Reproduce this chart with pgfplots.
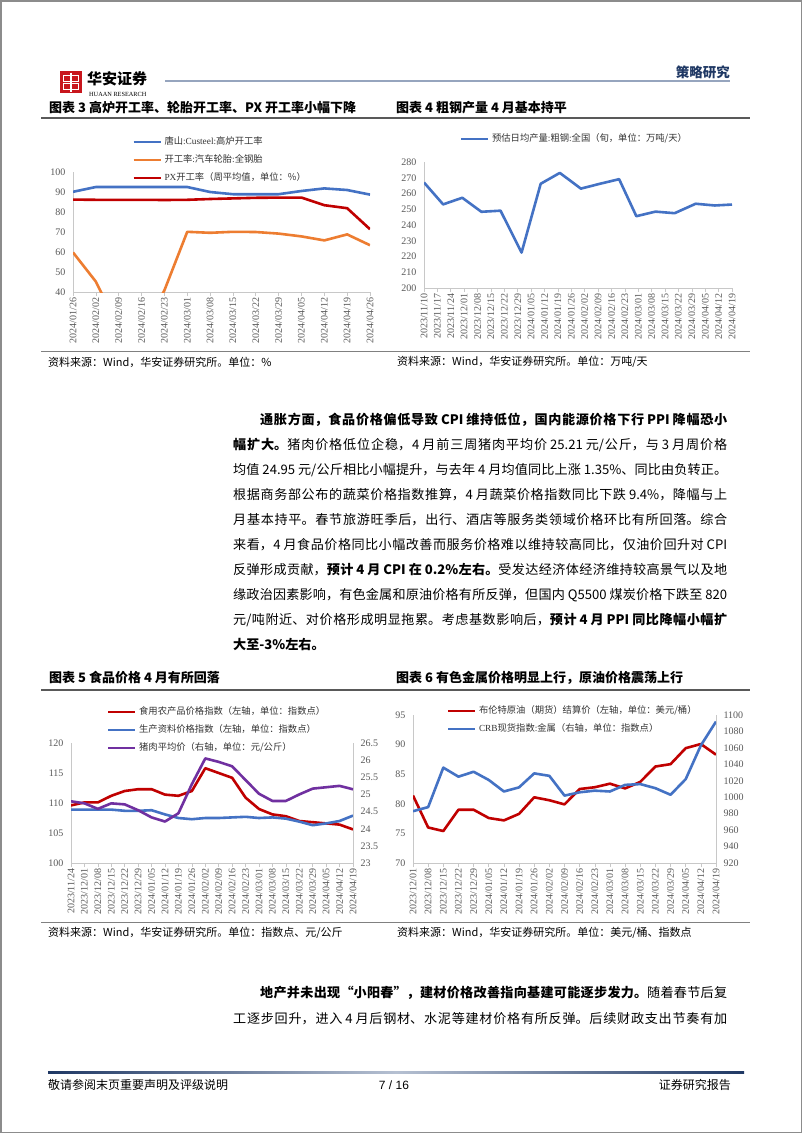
\documentclass[border=0pt]{standalone}
\usepackage{fontspec}
\usepackage{pgfplots}
\pgfplotsset{compat=1.18}
\setmainfont{Liberation Serif}
\newfontfamily\cjk{Noto Sans CJK SC}
\newfontfamily\lsans{Liberation Sans}
\XeTeXlinebreaklocale "zh"
\XeTeXlinebreakskip=0pt plus 1fil

\definecolor{cblue}{RGB}{68,114,196}
\definecolor{corange}{RGB}{237,125,49}
\definecolor{cdred}{RGB}{192,0,0}
\definecolor{cpurple}{RGB}{112,48,160}
\definecolor{axgray}{RGB}{200,200,200}
\definecolor{tickgray}{RGB}{89,89,89}
\definecolor{hdrline}{RGB}{150,165,190}
\definecolor{navy}{RGB}{31,56,100}
\definecolor{logored}{RGB}{200,22,29}

\newcommand\bodyfont{\cjk\fontsize{13.1}{16}\selectfont}
\newcommand\bl[4]{\node[anchor=west,inner sep=0pt] at (#1,-#2) {\parbox{#3pt}{\bodyfont\parindent=0pt\parfillskip=0pt\rightskip=0pt\leftskip=0pt #4}};}

\pgfplotsset{
  rpt/.style={
    scale only axis,
    axis line style={draw=axgray, line width=0.75pt},
    every tick label/.append style={font=\fontsize{10}{11}\selectfont, text=tickgray},
    /pgf/number format/assume math mode=true,
    /pgf/number format/1000 sep={},
    ytick style={draw=none},
    xtick style={draw=axgray, line width=0.6pt},
    major tick length=4pt,
    tick align=outside,
    xticklabel style={rotate=90, anchor=east, inner sep=1.5pt},
    legend style={draw=none, fill=none, inner sep=0pt, outer sep=0pt,
      font=\cjk\fontsize{9.3}{11}\selectfont, text=black!80,
      cells={anchor=west}, row sep=8pt, column sep=2pt,
      nodes={inner sep=0.5pt, text height=7pt, text depth=2pt}},
    legend image code/.code={\draw[##1, line width=2.6pt] (0pt,0pt) -- (27pt,0pt);},
  },
  ser/.style={line width=2.6pt, mark=none, line join=round},
}

\begin{document}
\begin{tikzpicture}[x=1pt,y=1pt]
\fill[white] (0,0) rectangle (802,-1133);
\path[use as bounding box] (0,0) rectangle (802,-1133);
\draw[black!45, line width=1.5pt] (0.75,-0.75) rectangle (801.25,-1132.25);

% ---------- header ----------
\fill[logored] (60,-71) rectangle (82,-93);
\draw[white, line width=1pt] (63.5,-75) rectangle (78.5,-81.5);
\draw[white, line width=1pt] (63.5,-83) rectangle (78.5,-89.5);
\draw[white, line width=1.2pt] (71,-72.5) -- (71,-91.5);
\node[anchor=west, inner sep=0pt] at (87,-79) {\cjk\bfseries\fontsize{15}{15}\selectfont 华安证券};
\node[anchor=west, inner sep=0pt] at (89,-94.5) {\fontsize{6.3}{7}\selectfont HUAAN RESEARCH};
\draw[hdrline, line width=2pt] (165,-81) -- (730,-81);
\node[anchor=east, inner sep=0pt, text=navy] at (730,-72) {\cjk\bfseries\fontsize{13.5}{14}\selectfont 策略研究};

% ---------- titles row 1 ----------
\node[anchor=west, inner sep=0pt] at (49,-108) {\cjk\bfseries\fontsize{13}{14}\selectfont 图表 3 高炉开工率、轮胎开工率、PX 开工率小幅下降};
\node[anchor=west, inner sep=0pt] at (396,-108) {\cjk\bfseries\fontsize{13}{14}\selectfont 图表 4 粗钢产量 4 月基本持平};
\draw[black!65, line width=2.2pt] (41,-118) -- (750,-118);

% ---------- chart 3 ----------
\begin{axis}[rpt, at={(73pt,-292pt)}, anchor=south west, width=297pt, height=120pt,
  xmin=0, xmax=13, ymin=40, ymax=100, ytick={40,50,...,100},
  xtick={0,...,13},
  xticklabels={2024/01/26,2024/02/02,2024/02/09,2024/02/16,2024/02/23,2024/03/01,2024/03/08,2024/03/15,2024/03/22,2024/03/29,2024/04/05,2024/04/12,2024/04/19,2024/04/26},
  axis x line*=bottom, axis y line*=left,
  legend style={at={(0.2,1.292)}, anchor=north west}]
\addplot[ser, cblue] coordinates {(0,90.1)(1,92.5)(2,92.5)(3,92.5)(4,92.5)(5,92.5)(6,90.0)(7,88.9)(8,88.9)(9,88.9)(10,90.5)(11,91.8)(12,91.0)(13,88.7)};
\addlegendentry{唐山{\rmfamily :Custeel:}高炉开工率}
\addplot[ser, corange] coordinates {(0,59.8)(1,45.2)(2,22)(3,20)(4,40.8)(5,70.1)(6,69.6)(7,70.1)(8,70.0)(9,69.2)(10,67.8)(11,65.8)(12,68.8)(13,63.4)};
\addlegendentry{开工率{\rmfamily :}汽车轮胎{\rmfamily :}全钢胎}
\addplot[ser, cdred] coordinates {(0,86.2)(1,86.1)(2,86.1)(3,86.1)(4,86.0)(5,86.1)(6,86.5)(7,86.8)(8,87.1)(9,87.2)(10,87.2)(11,83.4)(12,81.9)(13,71.4)};
\addlegendentry{{\rmfamily PX}开工率（周平均值，单位：\%）}
\end{axis}

% ---------- chart 4 ----------
\begin{axis}[rpt, at={(424pt,-288pt)}, anchor=south west, width=308pt, height=126pt,
  xmin=0, xmax=161, ymin=200, ymax=280, ytick={200,210,...,280},
  xtick={0,7,...,161},
  xticklabels={2023/11/10,2023/11/17,2023/11/24,2023/12/01,2023/12/08,2023/12/15,2023/12/22,2023/12/29,2024/01/05,2024/01/12,2024/01/19,2024/01/26,2024/02/02,2024/02/09,2024/02/16,2024/02/23,2024/03/01,2024/03/08,2024/03/15,2024/03/22,2024/03/29,2024/04/05,2024/04/12,2024/04/19},
  axis x line*=bottom, axis y line*=left,
  legend style={at={(0.117,1.222)}, anchor=north west}]
\addplot[ser, cblue] coordinates {(0,267.0)(10,253.1)(20,257.3)(30,248.4)(40,249.1)(51,222.5)(61,266.2)(71,273.1)(82,263.1)(92,266.2)(102,269.1)(111,245.6)(121,248.5)(131,247.5)(142,253.5)(152,252.4)(161,253.0)};
\addlegendentry{预估日均产量{\rmfamily :}粗钢{\rmfamily :}全国（旬，单位：万吨/天）}
\end{axis}

% ---------- sources row 1 ----------
\draw[black!50, line width=0.8pt] (41,-351) -- (750,-351);
\node[anchor=west, inner sep=0pt] at (48,-362) {\cjk\fontsize{11}{12}\selectfont 资料来源：Wind，华安证券研究所。单位：\%};
\node[anchor=west, inner sep=0pt] at (397,-362) {\cjk\fontsize{11}{12}\selectfont 资料来源：Wind，华安证券研究所。单位：万吨/天};

% ---------- paragraph 1 ----------
\bl{260}{420}{467}{\bfseries 通胀方面，食品价格偏低导致 CPI 维持低位，国内能源价格下行 PPI 降幅恐小}
\bl{233}{445}{494}{{\bfseries 幅扩大。}猪肉价格低位企稳，4 月前三周猪肉平均价 25.21 元/公斤，与 3 月周价格}
\bl{233}{470}{494}{均值 24.95 元/公斤相比小幅提升，与去年 4 月均值同比上涨 1.35\%、同比由负转正。}
\bl{233}{495}{494}{根据商务部公布的蔬菜价格指数推算，4 月蔬菜价格指数同比下跌 9.4\%，降幅与上}
\bl{233}{520}{494}{月基本持平。春节旅游旺季后，出行、酒店等服务类领域价格环比有所回落。综合}
\bl{233}{545}{494}{来看，4 月食品价格同比小幅改善而服务价格难以维持较高同比，仅油价回升对 CPI}
\bl{233}{570}{494}{反弹形成贡献，{\bfseries 预计 4 月 CPI 在 0.2\%左右。}受发达经济体经济维持较高景气以及地}
\bl{233}{595}{494}{缘政治因素影响，有色金属和原油价格有所反弹，但国内 Q5500 煤炭价格下跌至 820}
\bl{233}{620}{494}{元/吨附近、对价格形成明显拖累。考虑基数影响后，{\bfseries 预计 4 月 PPI 同比降幅小幅扩}}
\node[anchor=west, inner sep=0pt] at (233,-645) {\bodyfont\bfseries 大至-3\%左右。};

% ---------- titles row 2 ----------
\node[anchor=west, inner sep=0pt] at (49,-678) {\cjk\bfseries\fontsize{13}{14}\selectfont 图表 5 食品价格 4 月有所回落};
\node[anchor=west, inner sep=0pt] at (396,-678) {\cjk\bfseries\fontsize{13}{14}\selectfont 图表 6 有色金属价格明显上行，原油价格震荡上行};
\draw[black!65, line width=2.2pt] (41,-690) -- (750,-690);

% ---------- chart 5 ----------
\begin{axis}[rpt, at={(71pt,-863pt)}, anchor=south west, width=282pt, height=120pt,
  xmin=0, xmax=21, ymin=100, ymax=120, ytick={100,105,...,120},
  xtick={0,...,21},
  xticklabels={2023/11/24,2023/12/01,2023/12/08,2023/12/15,2023/12/22,2023/12/29,2024/01/05,2024/01/12,2024/01/19,2024/01/26,2024/02/02,2024/02/09,2024/02/16,2024/02/23,2024/03/01,2024/03/08,2024/03/15,2024/03/22,2024/03/29,2024/04/05,2024/04/12,2024/04/19},
  axis x line*=bottom, axis y line*=left]
\addplot[ser, cdred] coordinates {(0,109.6)(1,110.1)(2,110.1)(3,111.2)(4,112.0)(5,112.3)(6,112.3)(7,111.4)(8,111.2)(9,112.0)(10,115.8)(11,115.0)(12,114.2)(13,110.9)(14,109.0)(15,108.1)(16,107.8)(17,107.0)(18,106.8)(19,106.6)(20,106.4)(21,105.6)};
\addplot[ser, cblue] coordinates {(0,108.9)(1,108.9)(2,108.9)(3,108.9)(4,108.7)(5,108.7)(6,108.8)(7,108.1)(8,107.5)(9,107.3)(10,107.5)(11,107.5)(12,107.6)(13,107.7)(14,107.5)(15,107.6)(16,107.4)(17,106.9)(18,106.3)(19,106.6)(20,107.0)(21,107.9)};
\end{axis}
\begin{axis}[rpt, at={(71pt,-863pt)}, anchor=south west, width=282pt, height=120pt,
  xmin=0, xmax=21, ymin=23, ymax=26.5, ytick={23,23.5,...,26.5},
  axis y line*=right, axis x line=none,
  legend style={at={(0.128,1.30)}, anchor=north west}]
\addlegendimage{ser, cdred}
\addlegendentry{食用农产品价格指数（左轴，单位：指数点）}
\addlegendimage{ser, cblue}
\addlegendentry{生产资料价格指数（左轴，单位：指数点）}
\addplot[ser, cpurple] coordinates {(0,24.80)(1,24.74)(2,24.58)(3,24.74)(4,24.71)(5,24.54)(6,24.33)(7,24.21)(8,24.45)(9,25.30)(10,26.05)(11,25.95)(12,25.82)(13,25.42)(14,25.02)(15,24.81)(16,24.81)(17,25.00)(18,25.17)(19,25.21)(20,25.25)(21,25.15)};
\addlegendentry{猪肉平均价（右轴，单位：元/公斤）}
\end{axis}

% ---------- chart 6 ----------
\begin{axis}[rpt, at={(413pt,-863pt)}, anchor=south west, width=303pt, height=148pt,
  xmin=0, xmax=20, ymin=70, ymax=95, ytick={70,75,...,95},
  xtick={0,...,20},
  xticklabels={2023/12/01,2023/12/08,2023/12/15,2023/12/22,2023/12/29,2024/01/05,2024/01/12,2024/01/19,2024/01/26,2024/02/02,2024/02/09,2024/02/16,2024/02/23,2024/03/01,2024/03/08,2024/03/15,2024/03/22,2024/03/29,2024/04/05,2024/04/12,2024/04/19},
  axis x line*=bottom, axis y line*=left]
\addplot[ser, cdred] coordinates {(0,81.4)(1,76.0)(2,75.4)(3,79.0)(4,79.0)(5,77.6)(6,77.2)(7,78.3)(8,81.1)(9,80.6)(10,79.9)(11,82.5)(12,82.8)(13,83.4)(14,82.6)(15,83.7)(16,86.3)(17,86.7)(18,89.4)(19,90.1)(20,88.3)};
\end{axis}
\begin{axis}[rpt, at={(413pt,-863pt)}, anchor=south west, width=303pt, height=148pt,
  xmin=0, xmax=20, ymin=920, ymax=1100, ytick={920,940,...,1100},
  axis y line*=right, axis x line=none,
  legend style={at={(0.112,1.061)}, anchor=north west}]
\addlegendimage{ser, cdred}
\addlegendentry{布伦特原油（期货）结算价（左轴，单位：美元/桶）}
\addplot[ser, cblue] coordinates {(0,983)(1,988)(2,1036)(3,1025)(4,1031)(5,1021)(6,1007)(7,1012)(8,1029)(9,1026)(10,1002)(11,1006)(12,1008)(13,1007)(14,1015)(15,1016)(16,1011)(17,1003)(18,1022)(19,1063)(20,1092)};
\addlegendentry{{\rmfamily CRB}现货指数{\rmfamily :}金属（右轴，单位：指数点）}
\end{axis}

% ---------- sources row 2 ----------
\draw[black!50, line width=0.8pt] (41,-922) -- (750,-922);
\node[anchor=west, inner sep=0pt] at (48,-933) {\cjk\fontsize{11}{12}\selectfont 资料来源：Wind，华安证券研究所。单位：指数点、元/公斤};
\node[anchor=west, inner sep=0pt] at (397,-933) {\cjk\fontsize{11}{12}\selectfont 资料来源：Wind，华安证券研究所。单位：美元/桶、指数点};

% ---------- paragraph 2 ----------
\bl{260}{993}{467}{{\bfseries 地产并未出现“小阳春”，建材价格改善指向基建可能逐步发力。}随着春节后复}
\bl{233}{1019}{494}{工逐步回升，进入 4 月后钢材、水泥等建材价格有所反弹。后续财政支出节奏有加}

% ---------- footer ----------
\shade[left color=navy, right color=navy, middle color=hdrline!70] (48,-1071) rectangle (744,-1073.5);
\node[anchor=west, inner sep=0pt] at (48,-1085) {\cjk\fontsize{12}{13}\selectfont 敬请参阅末页重要声明及评级说明};
\node[inner sep=0pt] at (394,-1085) {\lsans\fontsize{12}{13}\selectfont 7 / 16};
\node[anchor=east, inner sep=0pt] at (731,-1085) {\cjk\fontsize{12}{13}\selectfont 证券研究报告};
\end{tikzpicture}
\end{document}
